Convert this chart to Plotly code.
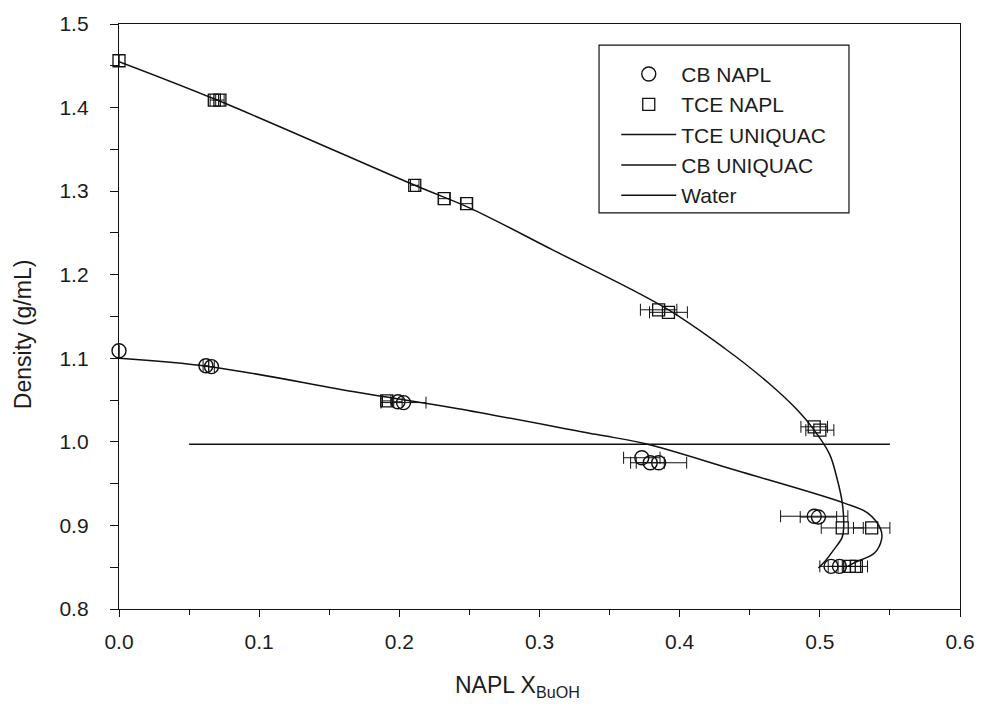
import plotly.graph_objects as go

# Measured NAPL densities (mole fraction of n-butanol vs density)
cb_x = [0.000, 0.062, 0.066, 0.199, 0.203, 0.373, 0.379, 0.385, 0.496, 0.499, 0.508, 0.514]
cb_y = [1.109, 1.091, 1.090, 1.048, 1.047, 0.981, 0.975, 0.975, 0.911, 0.910, 0.851, 0.851]
cb_err = [0.000, 0.002, 0.002, 0.003, 0.016, 0.013, 0.010, 0.020, 0.024, 0.013, 0.008, 0.008]

tce_x = [0.000, 0.068, 0.072, 0.191, 0.211, 0.232, 0.248, 0.385, 0.392, 0.496, 0.500, 0.516, 0.537, 0.521, 0.526]
tce_y = [1.456, 1.409, 1.409, 1.049, 1.307, 1.291, 1.285, 1.158, 1.155, 1.018, 1.014, 0.897, 0.897, 0.851, 0.851]
tce_err = [0.000, 0.003, 0.003, 0.003, 0.003, 0.004, 0.004, 0.013, 0.0135, 0.0095, 0.010, 0.015, 0.013, 0.008, 0.008]

# UNIQUAC model curves
tce_model_x = [0.000, 0.070, 0.211, 0.250, 0.309, 0.388, 0.432, 0.463, 0.484, 0.496,
               0.507, 0.512, 0.516, 0.517, 0.516, 0.510, 0.5046, 0.499]
tce_model_y = [1.455, 1.409, 1.307, 1.280, 1.230, 1.162, 1.112, 1.071, 1.038, 1.014,
               0.985, 0.958, 0.927, 0.898, 0.886, 0.871, 0.859, 0.849]

cb_model_x = [0.000, 0.065, 0.171, 0.241, 0.340, 0.375, 0.440, 0.517, 0.534,
              0.5435, 0.544, 0.539, 0.524, 0.520]
cb_model_y = [1.100, 1.090, 1.059, 1.040, 1.009, 0.998, 0.966, 0.927, 0.915,
              0.895, 0.883, 0.867, 0.855, 0.851]

# Density of water
water_x = [0.05, 0.55]
water_y = [0.997, 0.997]

INK = "#111111"
TEXT = "#1c1c1c"
FONT = "Liberation Sans, Arial, sans-serif"

fig = go.Figure()

fig.add_trace(go.Scatter(
    x=cb_x, y=cb_y, mode="markers", name="CB NAPL", cliponaxis=False,
    marker=dict(symbol="circle-open", size=14, color=INK, line=dict(width=1.4, color=INK)),
    error_x=dict(type="data", array=cb_err, symmetric=True, color=INK, thickness=1, width=6),
))
fig.add_trace(go.Scatter(
    x=tce_x, y=tce_y, mode="markers", name="TCE NAPL", cliponaxis=False,
    marker=dict(symbol="square-open", size=12, color=INK, line=dict(width=1.3, color=INK)),
    error_x=dict(type="data", array=tce_err, symmetric=True, color=INK, thickness=1, width=6),
))
fig.add_trace(go.Scatter(
    x=tce_model_x, y=tce_model_y, mode="lines", name="TCE UNIQUAC",
    line=dict(color=INK, width=1.5, shape="spline", smoothing=1.0),
))
fig.add_trace(go.Scatter(
    x=cb_model_x, y=cb_model_y, mode="lines", name="CB UNIQUAC",
    line=dict(color=INK, width=1.5, shape="spline", smoothing=1.0),
))
fig.add_trace(go.Scatter(
    x=water_x, y=water_y, mode="lines", name="Water",
    line=dict(color=INK, width=1.5),
))

axis_common = dict(
    showline=True, linecolor=INK, linewidth=1.3, mirror=True,
    ticks="outside", tickcolor=INK, tickwidth=1.2,
    showgrid=False, zeroline=False,
    tickfont=dict(family=FONT, size=21, color=TEXT),
)

fig.update_xaxes(
    range=[0, 0.6], dtick=0.1, tickformat=".1f", ticklen=7, ticklabelstandoff=7,
    minor=dict(dtick=0.05, ticks="outside", ticklen=5, tickcolor=INK, tickwidth=1.2),
    **axis_common,
)
fig.update_yaxes(
    range=[0.8, 1.5], dtick=0.1, tickformat=".1f", ticklen=8, ticklabelstandoff=17,
    minor=dict(dtick=0.05, ticks="outside", ticklen=8, tickcolor=INK, tickwidth=1.2),
    **axis_common,
)

fig.add_annotation(
    text="NAPL X<sub>BuOH</sub>", xref="paper", yref="paper", x=0.474, y=-0.132,
    xanchor="center", yanchor="middle", showarrow=False,
    font=dict(family=FONT, size=23, color=TEXT),
)
fig.add_annotation(
    text="Density (g/mL)", xref="paper", yref="paper", x=-0.114, y=0.47,
    xanchor="center", yanchor="middle", textangle=-90, showarrow=False,
    font=dict(family=FONT, size=23, color=TEXT),
)

# Legend frame
fig.add_shape(
    type="rect", xref="paper", yref="paper",
    x0=0.5708, x1=0.868, y0=0.677, y1=0.964,
    line=dict(color=INK, width=1.2), fillcolor="rgba(0,0,0,0)", layer="above",
)

fig.update_layout(
    width=987, height=709,
    margin=dict(l=119, r=20, t=24, b=100),
    paper_bgcolor="white", plot_bgcolor="white",
    showlegend=True,
    legend=dict(
        x=0.577, y=0.949, xanchor="left", yanchor="top",
        borderwidth=0, bgcolor="rgba(0,0,0,0)",
        font=dict(family=FONT, size=21, color=TEXT),
        itemwidth=55, tracegroupgap=0, indentation=12,
    ),
)

fig.write_html("out.html")
